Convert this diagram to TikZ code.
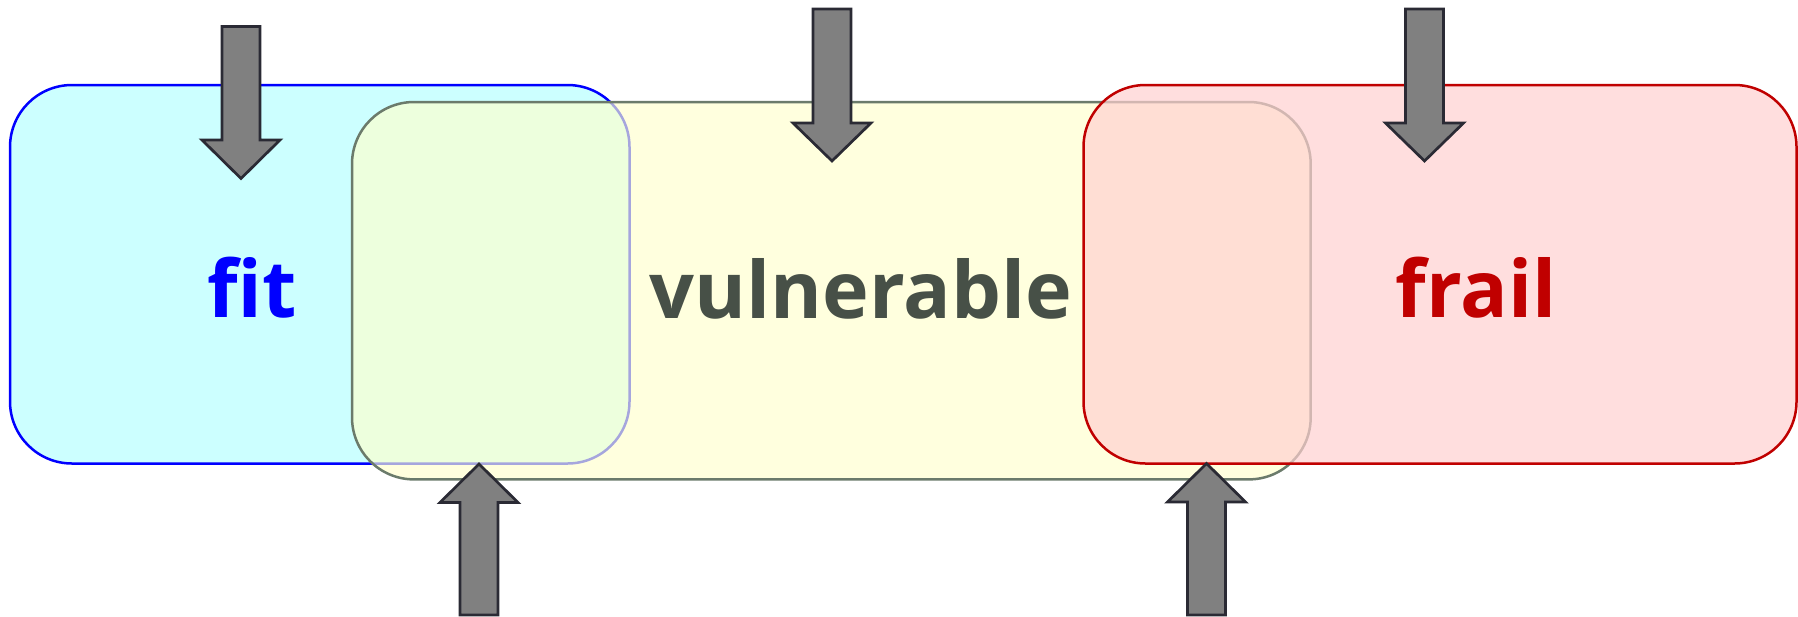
\documentclass[tikz,border=0pt]{standalone}
\usepackage{fontspec}
\setmainfont{Open Sans}
\newfontfamily\labelfont{Open Sans}[UprightFont={* Bold}]

\definecolor{fitfill}{HTML}{CCFFFF}
\definecolor{fitline}{HTML}{0000FF}
\definecolor{vulfill}{HTML}{FFFFCC}
\definecolor{vulline}{HTML}{6B7B6B}
\definecolor{vultext}{HTML}{475047}
\definecolor{frailfill}{HTML}{FFD0D0}
\definecolor{frailline}{HTML}{C00000}
\definecolor{arrowfill}{HTML}{808080}
\definecolor{arrowline}{HTML}{2A2A34}

\tikzset{
  zone/.style={rounded corners=31pt, line width=1.25pt, inner sep=0pt},
  label/.style={font=\labelfont\fontsize{39.5}{42}\selectfont, anchor=base, inner sep=0pt},
  blockarrow/.style={fill=arrowfill, draw=arrowline, line width=1.35pt, line join=miter},
}

% block arrow: centre x, tail y, head-base y, tip y (pixel units)
\newcommand\blockarrow[4]{%
  \draw[blockarrow] (#1-19,#2) -- (#1+19,#2) -- (#1+19,#3) -- (#1+39,#3)
    -- (#1,#4) -- (#1-39,#3) -- (#1-19,#3) -- cycle;}

\begin{document}
\begin{tikzpicture}[x={(0.5pt,0)}, y={(0,-0.5pt)}]
  \useasboundingbox (0,0) rectangle (1798,616);

  % the three overlapping zones
  \node[zone, draw=fitline, fill=fitfill, minimum width=309.75pt, minimum height=189.25pt]
    (fit) at (319.75,274.25) {};
  \node[zone, draw=vulline, fill=vulfill, fill opacity=0.65, draw opacity=1,
        minimum width=479.35pt, minimum height=188.7pt]
    (vul) at (831.35,290.7) {};
  \node[zone, draw=frailline, fill=frailfill, fill opacity=0.7,
        minimum width=356.5pt, minimum height=189.25pt]
    (frail) at (1440,274.25) {};

  % zone labels
  \node[label, text=fitline] (fittext) at (252,317) {fit};
  \node[label, text=vultext] (vultext) at (861,318) {vulnerable};
  \node[label, text=frailline] (frailtext) at (1476,317) {frail};

  % arrows from above
  \blockarrow{241}{26.5}{140}{178.5}
  \blockarrow{832}{9}{123}{161}
  \blockarrow{1424.5}{9}{123}{161}
  % arrows from below
  \blockarrow{479}{615}{502.5}{464}
  \blockarrow{1206.5}{615}{502}{463.5}
\end{tikzpicture}
\end{document}
